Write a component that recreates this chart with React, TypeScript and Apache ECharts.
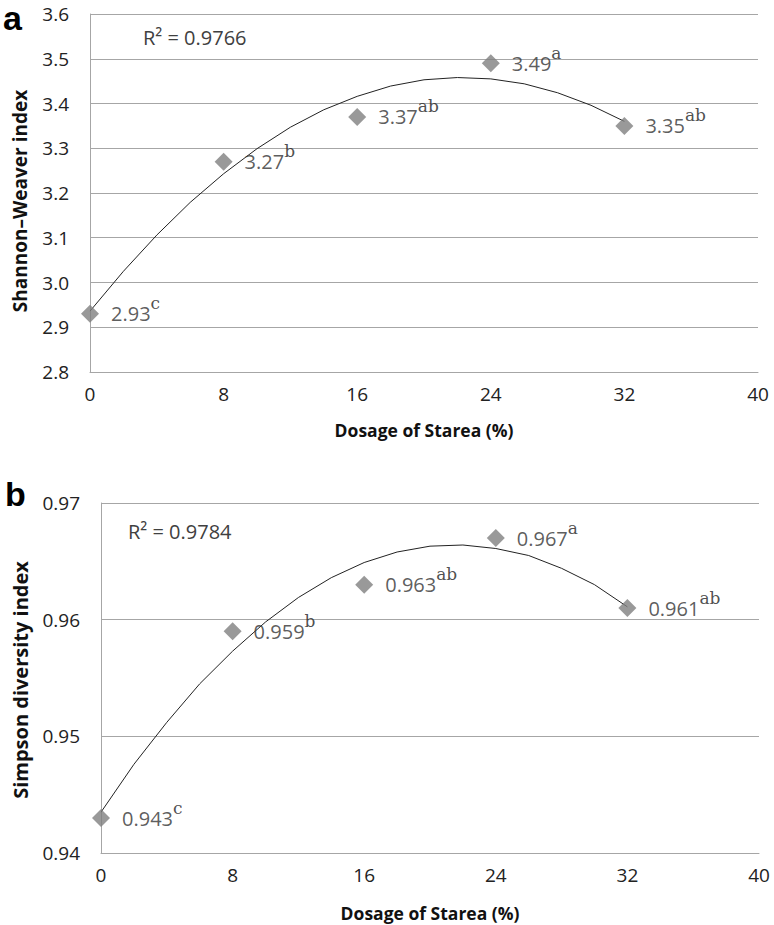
import React, { useEffect, useRef } from "react";
import * as echarts from "echarts";

const dosage = [0, 8, 16, 24, 32];
const shannon = [2.93, 3.27, 3.37, 3.49, 3.35];
const shannonLetters = ["c", "b", "ab", "a", "ab"];
const simpson = [0.943, 0.959, 0.963, 0.967, 0.961];
const simpsonLetters = ["c", "b", "ab", "a", "ab"];
// polynomial trend line
const trendX = [0, 2, 4, 6, 8, 10, 12, 14, 16, 18, 20, 22, 24, 26, 28, 30, 32];
const shannonTrend = [
  2.936, 3.025, 3.106, 3.179, 3.243, 3.299, 3.347, 3.386, 3.416,
  3.439, 3.453, 3.458, 3.455, 3.444, 3.424, 3.396, 3.36,
];
const simpsonTrend = [
  0.9435, 0.9476, 0.9512, 0.9545, 0.9573, 0.9598, 0.9619, 0.9636, 0.9649,
  0.9658, 0.9663, 0.9664, 0.9661, 0.9655, 0.9644, 0.963, 0.9611,
];
const shannonR2 = "R\u00b2 = 0.9766";
const simpsonR2 = "R\u00b2 = 0.9784";
const xTitle = "Dosage of Starea (%)";
const shannonTitle = "Shannon\u2013Weaver index";
const simpsonTitle = "Simpson diversity index";

const SANS = "'Open Sans', sans-serif";
const GRID_C = "#a6a6a6";
const MARK_C = "#7f7f7f";

function xAxisCfg(gridIndex: number, gap: number) {
  return {
    type: "value",
    gridIndex,
    min: 0,
    max: 40,
    interval: 8,
    name: xTitle,
    nameLocation: "middle",
    nameGap: gap,
    nameTextStyle: { fontFamily: SANS, fontWeight: "bold", fontSize: 17.5, color: "#111", lineHeight: 18 },
    axisLine: { show: true, lineStyle: { color: GRID_C, width: 1 } },
    axisTick: { show: false },
    splitLine: { show: false },
    axisLabel: { fontFamily: SANS, fontSize: 19, color: "#222", margin: 13, lineHeight: 18 },
  };
}

function yAxisCfg(gridIndex: number, min: number, max: number, interval: number, digits: number) {
  return {
    type: "value",
    gridIndex,
    min,
    max,
    interval,
    axisLine: { show: true, lineStyle: { color: GRID_C, width: 1 } },
    axisTick: { show: false },
    splitLine: { show: true, lineStyle: { color: GRID_C, width: 1 } },
    axisLabel: {
      fontFamily: SANS,
      fontSize: 19,
      color: "#222",
      margin: 21,
      lineHeight: 16,
      formatter: (v: number) => v.toFixed(digits),
    },
  };
}

function labelRich() {
  return {
    v: { fontFamily: SANS, fontSize: 20, color: "#333", lineHeight: 20, verticalAlign: "bottom" },
    s: {
      fontFamily: "'DejaVu Serif', serif",
      fontSize: 17,
      color: "#222",
      lineHeight: 18,
      padding: [0, 0, 12, 0],
      verticalAlign: "bottom",
    },
  };
}

export default function App() {
  const ref = useRef<HTMLDivElement>(null);
  useEffect(() => {
    if (!ref.current) return;
    const chart = echarts.init(ref.current, undefined, { renderer: "svg" });
    const option = {
      animation: false,
      backgroundColor: "#ffffff",
      grid: [
        { left: 90, top: 14, width: 668, height: 358 },
        { left: 101, top: 503, width: 658, height: 350 },
      ],
      xAxis: [xAxisCfg(0, 49), xAxisCfg(1, 51)],
      yAxis: [yAxisCfg(0, 2.8, 3.6, 0.1, 1), yAxisCfg(1, 0.94, 0.97, 0.01, 2)],
      series: [
        {
          type: "line",
          xAxisIndex: 0,
          yAxisIndex: 0,
          smooth: false,
          symbol: "none",
          lineStyle: { color: "#222", width: 1 },
          data: trendX.map((x, i) => [x, shannonTrend[i]]),
          z: 3,
        },
        {
          type: "scatter",
          xAxisIndex: 0,
          yAxisIndex: 0,
          symbol: "diamond",
          symbolSize: 18,
          itemStyle: { color: MARK_C },
          data: dosage.map((x, i) => [x, shannon[i]]),
          label: {
            show: true,
            position: "right",
            distance: 12,
            formatter: (p: any) => `{v|${shannon[p.dataIndex].toFixed(2)}}{s|${shannonLetters[p.dataIndex]}}`,
            rich: labelRich(),
          },
          z: 4,
        },
        {
          type: "line",
          xAxisIndex: 1,
          yAxisIndex: 1,
          smooth: false,
          symbol: "none",
          lineStyle: { color: "#222", width: 1 },
          data: trendX.map((x, i) => [x, simpsonTrend[i]]),
          z: 3,
        },
        {
          type: "scatter",
          xAxisIndex: 1,
          yAxisIndex: 1,
          symbol: "diamond",
          symbolSize: 18,
          itemStyle: { color: MARK_C },
          data: dosage.map((x, i) => [x, simpson[i]]),
          label: {
            show: true,
            position: "right",
            distance: 12,
            formatter: (p: any) => `{v|${simpson[p.dataIndex].toFixed(3)}}{s|${simpsonLetters[p.dataIndex]}}`,
            rich: labelRich(),
          },
          z: 4,
        },
      ],
      graphic: [
        {
          type: "text",
          left: 3,
          top: 1,
          style: { text: "a", font: "bold 34px 'Liberation Sans', Arial, sans-serif", fill: "#000", lineHeight: 26 },
        },
        {
          type: "text",
          left: 5,
          top: 477,
          style: { text: "b", font: "bold 34px 'Liberation Sans', Arial, sans-serif", fill: "#000", lineHeight: 26 },
        },
        {
          type: "text",
          x: 20,
          y: 201,
          rotation: Math.PI / 2,
          style: {
            text: shannonTitle,
            font: `bold 19px ${SANS}`,
            fill: "#111",
            align: "center",
            verticalAlign: "middle",
          },
        },
        {
          type: "text",
          x: 20,
          y: 680,
          rotation: Math.PI / 2,
          style: {
            text: simpsonTitle,
            font: `bold 20px ${SANS}`,
            fill: "#111",
            align: "center",
            verticalAlign: "middle",
          },
        },
        {
          type: "text",
          left: 143,
          top: 27,
          style: { text: shannonR2, font: `20px ${SANS}`, fill: "#404040" },
        },
        {
          type: "text",
          left: 128,
          top: 521,
          style: { text: simpsonR2, font: `20px ${SANS}`, fill: "#404040" },
        },
      ],
    };
    chart.setOption(option as any);
    return () => chart.dispose();
  }, []);
  return (
    <div
      ref={ref}
      style={{ position: "absolute", left: 0, top: 0, width: 774, height: 925, background: "#fff" }}
    />
  );
}
